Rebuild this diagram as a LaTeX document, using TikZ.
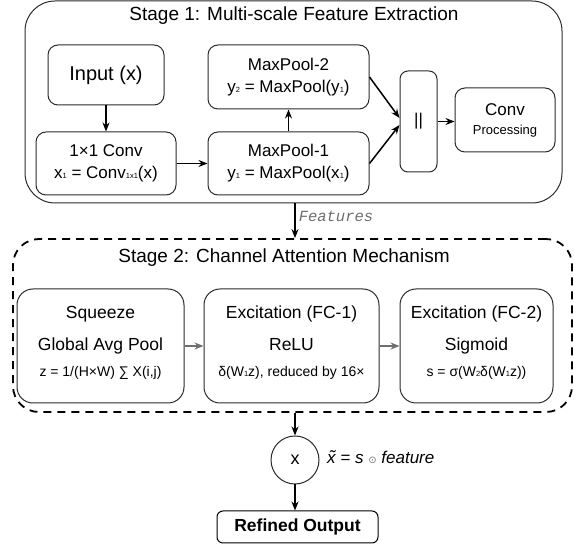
\documentclass[tikz,border=0pt]{standalone}
\usepackage{fontspec}
\setmainfont{Liberation Sans}
\setmonofont{Liberation Mono}
\newfontfamily\symfont{DejaVu Sans}
\usetikzlibrary{arrows.meta}

% small index digits written inline after a symbol
\newcommand{\lowidx}[1]{{\fontsize{7.5}{7.5}\selectfont #1}}
% extra depth under the last line of a three-line block
\newcommand{\lowstrut}{\rule[-9pt]{0pt}{0pt}}

\definecolor{edge}{HTML}{2B2B2B}
\definecolor{softgray}{HTML}{6E6E6E}

\tikzset{
  x=1pt, y=-1pt,
  stagebox/.style={draw=edge, line width=1pt, rounded corners=30pt},
  attnframe/.style={draw=black, line width=1.8pt, dash pattern=on 8pt off 6pt, rounded corners=26pt},
  opbox/.style={draw=edge, line width=1pt, rounded corners=10pt, align=center,
    inner sep=0pt, font=\fontsize{17}{22}\selectfont},
  sebox/.style={draw=edge, line width=1pt, rounded corners=16pt, align=center,
    inner sep=0pt, minimum height=114pt, font=\fontsize{17.5}{21}\selectfont},
  flow/.style={-{Stealth[length=9pt,width=7pt]}, line width=1.5pt, black},
  softflow/.style={-{Stealth[length=9pt,width=7pt]}, line width=1.5pt, softgray},
  titletext/.style={font=\fontsize{19}{22}\selectfont, inner sep=0pt},
}

\begin{document}
\begin{tikzpicture}
\useasboundingbox (0,0) rectangle (574,548);

% ---------------- Stage 1 ----------------
\node[stagebox, minimum width=537pt, minimum height=202pt] (stage1) at (293.5,102) {};
\node[titletext] (title1) at (294,16) {Stage 1: Multi-scale Feature Extraction};

\node[opbox, minimum width=116pt, minimum height=60pt, font=\fontsize{20}{24}\selectfont] (inp) at (106,75) {Input (x)};
\node[opbox, minimum width=140pt, minimum height=63pt] (conv1) at (106,163.5)
  {1×1 Conv\\x\lowidx{1} = Conv\lowidx{1x1}(x)};
\node[opbox, minimum width=161pt, minimum height=63pt] (mp1) at (288.5,163.5)
  {MaxPool-1\\y\lowidx{1} = MaxPool(x\lowidx{1})};
\node[opbox, minimum width=161pt, minimum height=64pt] (mp2) at (288.5,77)
  {MaxPool-2\\y\lowidx{2} = MaxPool(y\lowidx{1})};
\node[opbox, rounded corners=8pt, minimum width=37pt, minimum height=101pt] (cat) at (418.5,121.5) {||};
\node[opbox, minimum width=100pt, minimum height=64pt] (convp) at (505,120)
  {Conv\\[-3pt]{\fontsize{13}{15}\selectfont Processing}};

\draw[flow] (inp) -- (conv1);
\draw[flow] (conv1) -- (mp1);
\draw[flow] (mp1) -- (mp2);
\draw[flow] (mp2.east) -- ([yshift=3.5pt]cat.west);
\draw[flow] (mp1.east) -- ([yshift=-3.5pt]cat.west);
\draw[flow] (cat.east) -- (convp.west |- cat.east);

% ---------------- Stage 2 ----------------
\node[attnframe, minimum width=559pt, minimum height=173pt] (stage2) at (292.5,325.5) {};
\node[titletext] (title2) at (284,258) {Stage 2: Channel Attention Mechanism};

\node[sebox, minimum width=167pt] (sq) at (100.5,346)
  {Squeeze\\[11pt]Global Avg Pool\\[5pt]{\fontsize{14}{17}\selectfont z = 1/(H×W) ∑ X(i,j)\lowstrut}};
\node[sebox, minimum width=175pt] (fc1) at (291.5,346)
  {Excitation (FC-1)\\[11pt]ReLU\\[5pt]{\fontsize{14}{17}\selectfont δ(W\lowidx{1}z), reduced by 16×\lowstrut}};
\node[sebox, minimum width=153pt] (fc2) at (476.5,346)
  {Excitation (FC-2)\\[11pt]Sigmoid\\[5pt]{\fontsize{14}{17}\selectfont s = σ(W\lowidx{2}δ(W\lowidx{1}z))\lowstrut}};

\draw[softflow] (sq) -- (fc1);
\draw[softflow] (fc1) -- (fc2);

% ---------------- Recalibration and output ----------------
\node[draw=edge, line width=1pt, circle, minimum size=48pt, inner sep=0pt,
      font=\fontsize{18}{20}\selectfont] (mul) at (295,460) {x};
\node[anchor=west, inner sep=0pt, font=\fontsize{17}{20}\selectfont\itshape] (rule) at (327,457)
  {\~{x} = s {\upshape\symfont\color{softgray}\fontsize{10}{12}\selectfont ⊙} feature};

\node[draw=black, line width=1pt, rounded corners=6pt, minimum width=161pt, minimum height=32pt,
      inner sep=0pt, font=\fontsize{17.5}{20}\selectfont\bfseries] (out) at (297.5,527) {Refined Output};

\draw[flow] (stage1.south -| mul.center) -- (stage2.north -| mul.center)
  node[pos=0.36, anchor=west, inner sep=0pt, xshift=3pt, text=softgray,
       font=\fontsize{15.5}{18}\selectfont\ttfamily\itshape] (featlbl) {Features};
\draw[flow] (stage2.south -| mul.center) -- (mul.north);
\draw[flow] (mul.south) -- (out.north -| mul.south);
\end{tikzpicture}
\end{document}
